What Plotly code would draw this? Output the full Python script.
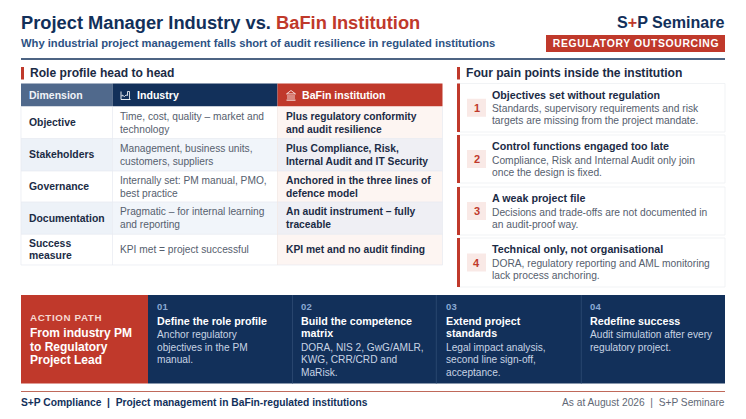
import plotly.graph_objects as go

FONT = "Liberation Sans"
NAVY = "#12305a"
RED = "#c0392b"
INK = "#1b2b45"
GRAY = "#56606e"

title_left = "Project Manager Industry vs. "
title_right = "BaFin Institution"
subtitle = "Why industrial project management falls short of audit resilience in regulated institutions"
brand = ["S", "+", "P Seminare"]
badge = "REGULATORY OUTSOURCING"
section_left = "Role profile head to head"
section_right = "Four pain points inside the institution"

table_headers = ["Dimension", "Industry", "BaFin institution"]
dimensions = [["Objective"], ["Stakeholders"], ["Governance"], ["Documentation"], ["Success", "measure"]]
industry = [
    ["Time, cost, quality – market and", "technology"],
    ["Management, business units,", "customers, suppliers"],
    ["Internally set: PM manual, PMO,", "best practice"],
    ["Pragmatic – for internal learning", "and reporting"],
    ["KPI met = project successful"],
]
bafin = [
    ["Plus regulatory conformity", "and audit resilience"],
    ["Plus Compliance, Risk,", "Internal Audit and IT Security"],
    ["Anchored in the three lines of", "defence model"],
    ["An audit instrument – fully", "traceable"],
    ["KPI met and no audit finding"],
]
pain_titles = [
    "Objectives set without regulation",
    "Control functions engaged too late",
    "A weak project file",
    "Technical only, not organisational",
]
pain_texts = [
    ["Standards, supervisory requirements and risk", "targets are missing from the project mandate."],
    ["Compliance, Risk and Internal Audit only join", "once the design is fixed."],
    ["Decisions and trade-offs are not documented in", "an audit-proof way."],
    ["DORA, regulatory reporting and AML monitoring", "lack process anchoring."],
]
action_label = "ACTION PATH"
action_head = ["From industry PM", "to Regulatory", "Project Lead"]
step_numbers = ["01", "02", "03", "04"]
step_titles = [
    ["Define the role profile"],
    ["Build the competence", "matrix"],
    ["Extend project", "standards"],
    ["Redefine success"],
]
step_texts = [
    ["Anchor regulatory", "objectives in the PM", "manual."],
    ["DORA, NIS 2, GwG/AMLR,", "KWG, CRR/CRD and", "MaRisk."],
    ["Legal impact analysis,", "second line sign-off,", "acceptance."],
    ["Audit simulation after every", "regulatory project."],
]
footer_left = "S+P Compliance  |  Project management in BaFin-regulated institutions"
footer_right = "As at August 2026  |  S+P Seminare"

shapes, notes = [], []


def rect(x0, y0, x1, y1, fill, line=None, lw=0):
    shapes.append(dict(type="rect", x0=x0, y0=y0, x1=x1, y1=y1, fillcolor=fill,
                       line=dict(color=line or fill, width=lw), layer="below"))


def seg(x0, y0, x1, y1, color, w=1):
    shapes.append(dict(type="line", x0=x0, y0=y0, x1=x1, y1=y1, line=dict(color=color, width=w), layer="below"))


def path(d, color, w=0.9, fill=None):
    shapes.append(dict(type="path", path=d, line=dict(color=color, width=w),
                       fillcolor=fill or "rgba(0,0,0,0)", layer="above"))


def text(x, y, s, size, color, bold=False, anchor="left"):
    notes.append(dict(x=x, y=y, xref="x", yref="y", text=f"<b>{s}</b>" if bold else s,
                      showarrow=False, xanchor=anchor, yanchor="middle", align=anchor,
                      font=dict(family=FONT, size=size, color=color),
                      borderpad=0, borderwidth=0))


def block(x, ym, lines, size, color, bold, gap):
    start = ym - gap * (len(lines) - 1) / 2
    for k, line in enumerate(lines):
        text(x, start + k * gap, line, size, color, bold)


# header
text(21, 22.5, title_left + f'<span style="color:{RED}">{title_right}</span>', 18.3, NAVY, True)
text(21, 43, subtitle, 11.2, "#2d5283", True)
text(725, 22, f'{brand[0]}<span style="color:{RED}">{brand[1]}</span>{brand[2]}', 16.1, NAVY, True, "right")
rect(546, 35, 725, 52, RED)
text(635.5, 43.5, badge, 10.4, "#ffffff", True, "center")
seg(21, 59, 725, 59, NAVY, 1.5)

# section heads
rect(21, 67, 24, 79.5, RED)
text(30, 73, section_left, 12.1, INK, True)
rect(457, 67, 460, 79.5, RED)
text(466, 73, section_right, 12.1, INK, True)

# table
col_x = [21, 112.5, 277.5, 442.5]
row_y = [106.5, 138.5, 171, 202, 234.3, 265]
rect(col_x[0], 83.5, col_x[1], 106.5, "#50698c")
rect(col_x[1], 83.5, col_x[2], 106.5, NAVY)
rect(col_x[2], 83.5, col_x[3], 106.5, RED)
text(29, 95, table_headers[0], 10.5, "#f1f4f8", True)
text(137, 95, table_headers[1], 10.6, "#ffffff", True)
text(302, 95, table_headers[2], 10.6, "#ffffff", True)
for i in range(5):
    y0, y1 = row_y[i], row_y[i + 1]
    ym = (y0 + y1) / 2
    odd = i % 2 == 1
    rect(col_x[0], y0, col_x[1], y1, "#edf2f8" if odd else "#ffffff")
    rect(col_x[1], y0, col_x[2], y1, "#f1f5fa" if odd else "#ffffff")
    rect(col_x[2], y0, col_x[3], y1, "#efeff4" if odd else "#fdf5f2")
    block(29, ym, dimensions[i], 10.4, INK, True, 12)
    block(120, ym, industry[i], 10.2, GRAY, False, 13)
    block(285.5, ym, bafin[i], 10.25, INK, True, 13)
for y in row_y[1:]:
    seg(col_x[0], y, col_x[3], y, "#e6eaf0", 0.7)
seg(col_x[0], 106.5, col_x[0], 265, "#e6eaf0", 0.7)
seg(col_x[1], 106.5, col_x[1], 265, "#e6eaf0", 0.7)
seg(col_x[2], 106.5, col_x[2], 265, "#f0e6e4", 0.7)
seg(col_x[3], 106.5, col_x[3], 265, "#e6eaf0", 0.7)

# header icons
ix, iy = 121, 90.5
path(f"M{ix},{iy+1} L{ix},{iy+9} L{ix+9.5},{iy+9}", "#ffffff", 0.9)
path(f"M{ix+1},{iy+6} L{ix+1},{iy+4.5} L{ix+3.5},{iy+6} L{ix+5},{iy+4.5} L{ix+6.5},{iy+5} L{ix+6.5},{iy+1} L{ix+8.5},{iy+1} L{ix+8.5},{iy+9}", "#ffffff", 0.8)
bx, by = 286.5, 90.5
path(f"M{bx},{by+3.4} L{bx+4.5},{by} L{bx+9},{by+3.4} Z", "#ffffff", 0.8)
for dx in (1.5, 3.5, 5.5, 7.5):
    seg(bx + dx, by + 4.5, bx + dx, by + 8.5, "#ffffff", 0.8)
    shapes[-1]["layer"] = "above"
seg(bx, by + 9.6, bx + 9, by + 9.6, "#ffffff", 1)
shapes[-1]["layer"] = "above"

# pain cards
card_y = [(83.5, 132), (135, 183), (187, 235), (238, 287)]
for i, (y0, y1) in enumerate(card_y):
    rect(458, y0, 725, y1, "#ffffff", "#eef0f3", 0.8)
    rect(457, y0, 460, y1, RED)
    ym = (y0 + y1) / 2
    rect(467, ym - 9, 486, ym + 9, "#f9e9e6")
    text(476.5, ym, str(i + 1), 11, RED, True, "center")
    text(492, y0 + 11, pain_titles[i], 10.7, INK, True)
    text(492, y0 + 25, pain_texts[i][0], 10.25, GRAY)
    text(492, y0 + 37.4, pain_texts[i][1], 10.25, GRAY)

# action band
rect(21, 295, 148, 383.5, RED)
rect(148, 295, 725, 383.5, NAVY)
for x in (292.5, 436.3, 581.3):
    seg(x, 295, x, 383.5, "#2f4b74", 0.8)
text(29.5, 317.5, action_label, 9.8, "#f6d9d2", True)
for j, line in enumerate(action_head):
    text(29.5, 333 + j * 13.7, line, 12, "#ffffff", True)
step_x = [156.5, 300.7, 445.5, 590]
for i in range(4):
    x = step_x[i]
    text(x, 306.5, step_numbers[i], 9.5, "#8aa9d3", True)
    y = 320.5
    for line in step_titles[i]:
        text(x, y, line, 10.7, "#ffffff", True)
        y += 12.8
    y += 1.4
    for line in step_texts[i]:
        text(x, y, line, 10.15, "#c8d4e4")
        y += 12.4

# footer
seg(21, 391.5, 725, 391.5, "#c0695a", 1.2)
text(21, 402.5, footer_left, 10.25, NAVY, True)
text(725, 402.5, footer_right, 10.2, "#5f6875", False, "right")

fig = go.Figure()
fig.update_layout(
    width=746, height=419, autosize=False,
    margin=dict(l=0, r=0, t=0, b=0),
    paper_bgcolor="#ffffff", plot_bgcolor="#ffffff",
    xaxis=dict(range=[0, 746], visible=False, fixedrange=True),
    yaxis=dict(range=[419, 0], visible=False, fixedrange=True),
    shapes=shapes, annotations=notes, showlegend=False,
)
post = """
document.documentElement.style.margin='0';
document.documentElement.style.overflow='hidden';
document.body.style.margin='0';
document.querySelectorAll('.annotation-text').forEach(function(t){
  var s=t.textContent;
  if(s==='REGULATORY OUTSOURCING'){t.style.letterSpacing='0.65px';}
  if(s==='ACTION PATH'){t.style.letterSpacing='0.6px';}
  if(/^0[1-4]$/.test(s)){t.style.letterSpacing='0.3px';}
});
"""
fig.write_html("out.html", config=dict(displayModeBar=False, staticPlot=True), post_script=post)
